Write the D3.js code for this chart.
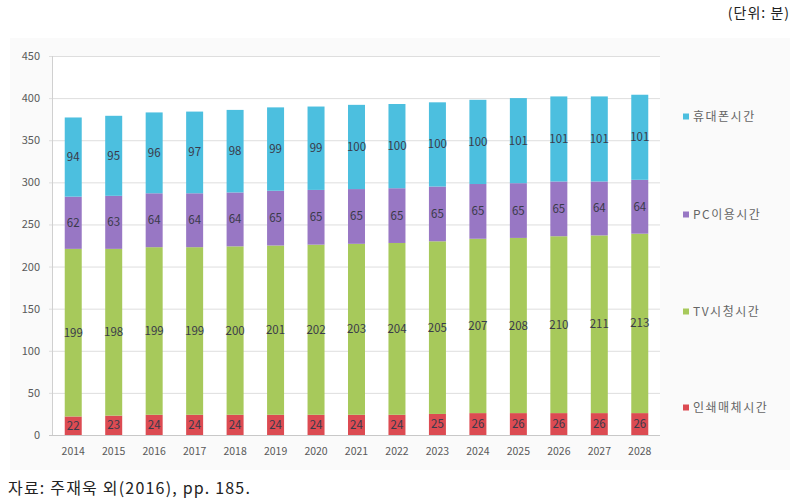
<!DOCTYPE html>
<html><head><meta charset="utf-8">
<script src="https://cdn.jsdelivr.net/npm/d3@7"></script>
<style>body{margin:0;background:#fff;}svg{display:block;}</style>
</head><body>
<svg id="c" width="804" height="503"></svg>
<script>
const years = ["2014","2015","2016","2017","2018","2019","2020","2021","2022","2023","2024","2025","2026","2027","2028"];
const printTime = [22,23,24,24,24,24,24,24,24,25,26,26,26,26,26];
const tvTime = [199,198,199,199,200,201,202,203,204,205,207,208,210,211,213];
const pcTime = [62,63,64,64,64,65,65,65,65,65,65,65,65,64,64];
const mobileTime = [94,95,96,97,98,99,99,100,100,100,100,101,101,101,101];
const seriesNames = ["인쇄매체시간","TV시청시간","PC이용시간","휴대폰시간"];
const seriesColors = ["#dc4b52","#a7c95b","#9877c4","#4cbfdf"];
const yTicks = [0,50,100,150,200,250,300,350,400,450];

const svg = d3.select("#c");
const font = "'Malgun Gothic','Noto Sans CJK KR','Noto Sans',sans-serif";

// panel
svg.append("rect").attr("x",10).attr("y",38).attr("width",780).attr("height",432).attr("fill","#fafafa");

const m = {l:53, r:660, t:56, b:435};
const x = d3.scaleBand().domain(years).range([m.l, m.r]).paddingInner(0.58).paddingOuter(0.29);
const y = d3.scaleLinear().domain([0,450]).range([m.b, m.t]);

svg.append("rect").attr("x",m.l).attr("y",m.t).attr("width",m.r-m.l).attr("height",m.b-m.t).attr("fill","#fff");

// gridlines
svg.append("g").selectAll("line").data(yTicks).join("line")
  .attr("x1",m.l-4).attr("x2",m.r).attr("y1",d=>y(d)+0.5).attr("y2",d=>y(d)+0.5)
  .attr("stroke",d=>d===0?"#c8c8c8":"#dedede").attr("stroke-width",1);
svg.append("line").attr("x1",m.l-0.5).attr("x2",m.l-0.5).attr("y1",m.t).attr("y2",m.b)
  .attr("stroke","#d0d0d0");

// y axis
const ya = svg.append("g").attr("transform",`translate(${m.l-1},0)`)
  .call(d3.axisLeft(y).tickValues(yTicks).tickSize(0).tickPadding(12));
ya.select(".domain").remove();
ya.selectAll("text").attr("font-family",font).attr("font-size",11).attr("fill","#595959");

// x axis
const xa = svg.append("g").attr("transform",`translate(0,${m.b})`)
  .call(d3.axisBottom(x).tickSize(0).tickPadding(13));
xa.select(".domain").remove();
xa.selectAll("text").attr("font-family",font).attr("font-size",10.5).attr("fill","#595959");

const rows = years.map((yr,i)=>({year:yr, s0:printTime[i], s1:tvTime[i], s2:pcTime[i], s3:mobileTime[i]}));
const stack = d3.stack().keys(["s0","s1","s2","s3"])(rows);

const g = svg.append("g");
stack.forEach((layer,k)=>{
  g.append("g").selectAll("rect").data(layer).join("rect")
    .attr("x",d=>x(d.data.year)).attr("width",x.bandwidth())
    .attr("y",d=>y(d[1])).attr("height",d=>y(d[0])-y(d[1]))
    .attr("fill",seriesColors[k]);
  g.append("g").selectAll("text").data(layer).join("text")
    .attr("x",d=>x(d.data.year)+x.bandwidth()/2)
    .attr("y",d=>y((d[0]+d[1])/2))
    .attr("dy","0.35em").attr("text-anchor","middle")
    .attr("font-family",font).attr("font-size",11.5).attr("fill","#3a3a4a")
    .text(d=>d[1]-d[0]);
});

// legend
const legY = [408,312,215,117];
const lg = svg.append("g");
seriesNames.forEach((n,k)=>{
  lg.append("rect").attr("x",683).attr("y",legY[k]-3.5).attr("width",6).attr("height",6).attr("fill",seriesColors[k]);
  lg.append("text").attr("x",693).attr("y",legY[k]).attr("dy","0.35em")
    .attr("font-family",font).attr("font-size",12).attr("letter-spacing",1.5).attr("fill","#666").text(n);
});

// unit
svg.append("text").attr("x",790).attr("y",13).attr("dy","0.35em").attr("text-anchor","end")
  .attr("font-family",font).attr("font-size",14).attr("letter-spacing",1).attr("fill","#222").text("(단위: 분)");
// source
svg.append("text").attr("x",8).attr("y",488).attr("dy","0.35em")
  .attr("font-family",font).attr("font-size",16).attr("letter-spacing",1.2).attr("fill","#222").text("자료: 주재욱 외(2016), pp. 185.");
</script>
</body></html>
